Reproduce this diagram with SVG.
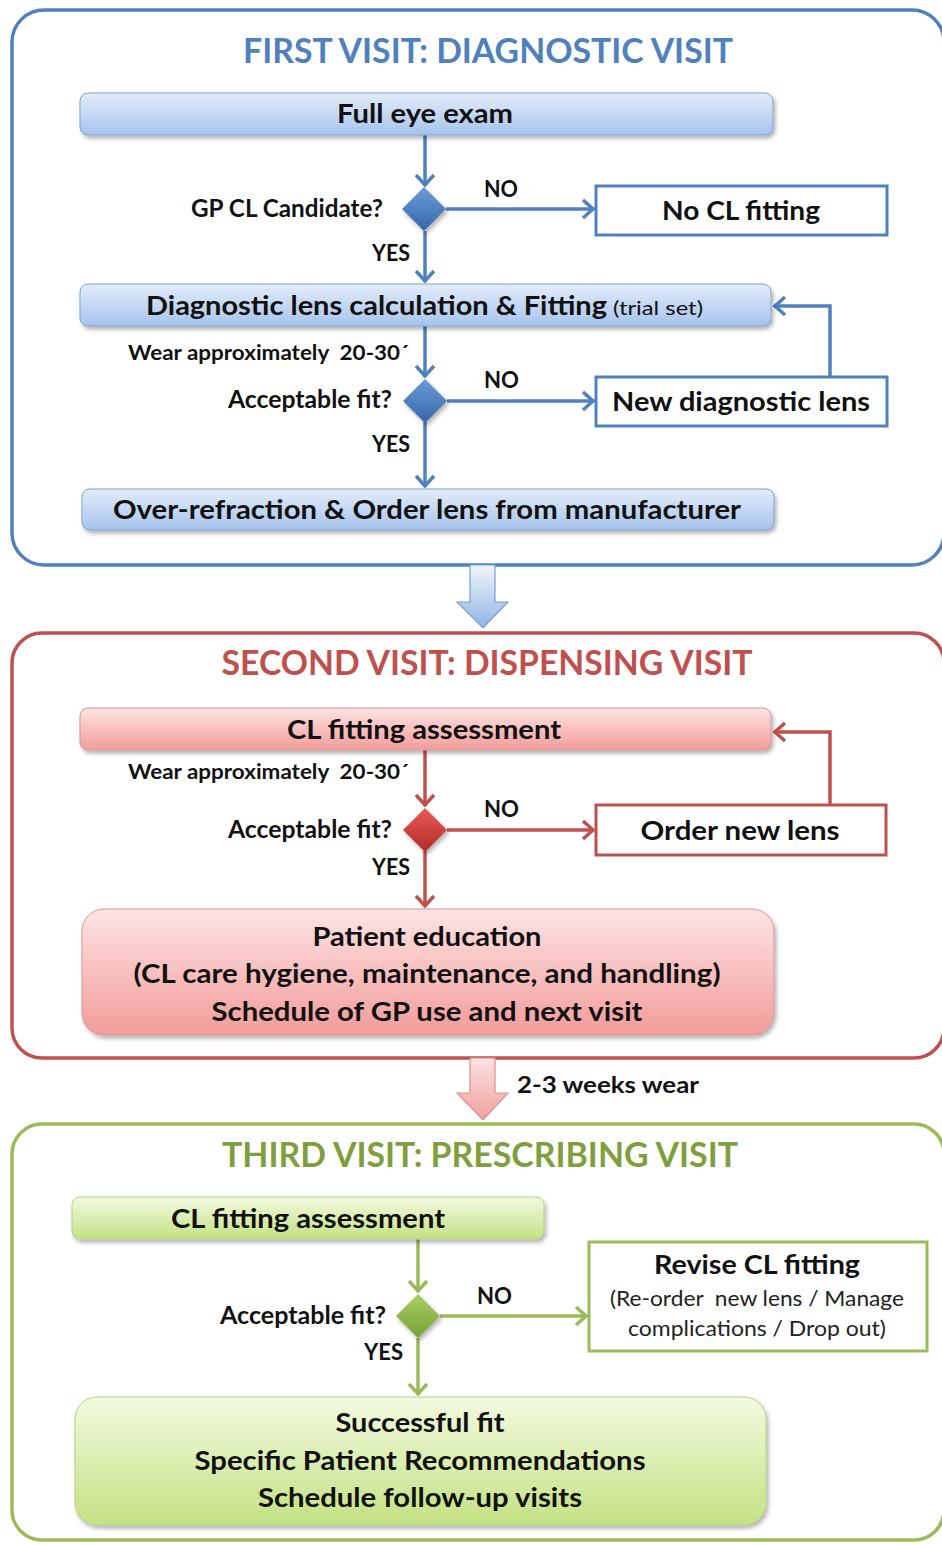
<svg xmlns="http://www.w3.org/2000/svg" width="942" height="1545" viewBox="0 0 942 1545">
  <style>
    text { font-family: Lato, "Open Sans", "Liberation Sans", sans-serif; font-weight: bold; fill: #111; }
    .title { font-size: 35px; text-anchor: middle; }
    .box-t { font-size: 27px; text-anchor: middle; }
    .lbl { font-size: 24px; }
    .yn { font-size: 22px; }
    .note { font-size: 20px; }
    .panel { fill: #fff; stroke-width: 3.5; }
    .plain { fill: #fff; stroke-width: 3; }
    .blue-line { fill: none; stroke: #4f81bd; stroke-width: 3.5; }
    .red-line { fill: none; stroke: #c0504d; stroke-width: 3.5; }
    .green-line { fill: none; stroke: #9bbb59; stroke-width: 3.5; }
  </style>
  <defs>
    <linearGradient id="gBlue" x1="0" y1="0" x2="0" y2="1">
      <stop offset="0" stop-color="#e3edfa"/>
      <stop offset="1" stop-color="#a6c3ec"/>
    </linearGradient>
    <linearGradient id="gRed" x1="0" y1="0" x2="0" y2="1">
      <stop offset="0" stop-color="#fde4e4"/>
      <stop offset="1" stop-color="#f29c9a"/>
    </linearGradient>
    <linearGradient id="gGreen" x1="0" y1="0" x2="0" y2="1">
      <stop offset="0" stop-color="#f3fae0"/>
      <stop offset="1" stop-color="#c4e183"/>
    </linearGradient>
    <linearGradient id="dBlue" x1="0" y1="0" x2="0" y2="1">
      <stop offset="0" stop-color="#6a9bd8"/>
      <stop offset="1" stop-color="#3766a8"/>
    </linearGradient>
    <linearGradient id="dRed" x1="0" y1="0" x2="0" y2="1">
      <stop offset="0" stop-color="#ec5a55"/>
      <stop offset="1" stop-color="#b02a27"/>
    </linearGradient>
    <linearGradient id="dGreen" x1="0" y1="0" x2="0" y2="1">
      <stop offset="0" stop-color="#a9cf62"/>
      <stop offset="1" stop-color="#77a136"/>
    </linearGradient>
    <linearGradient id="bArrowBlue" x1="0" y1="0" x2="0" y2="1">
      <stop offset="0" stop-color="#f2f6fc"/>
      <stop offset="1" stop-color="#8fb4e3"/>
    </linearGradient>
    <linearGradient id="bArrowRed" x1="0" y1="0" x2="0" y2="1">
      <stop offset="0" stop-color="#fbe3e2"/>
      <stop offset="1" stop-color="#efa09e"/>
    </linearGradient>
    <filter id="shadow" x="-5%" y="-20%" width="110%" height="150%">
      <feDropShadow dx="2" dy="3" stdDeviation="2" flood-color="#000" flood-opacity="0.3"/>
    </filter>
    <marker id="arrBlue" viewBox="-14 -11 17 22" markerWidth="17" markerHeight="22" refX="0" refY="0" orient="auto" markerUnits="userSpaceOnUse">
      <path d="M-11,-9 L-1,0 L-11,9" fill="none" stroke="#4f81bd" stroke-width="3.5"/>
    </marker>
    <marker id="arrRed" viewBox="-14 -11 17 22" markerWidth="17" markerHeight="22" refX="0" refY="0" orient="auto" markerUnits="userSpaceOnUse">
      <path d="M-11,-9 L-1,0 L-11,9" fill="none" stroke="#c0504d" stroke-width="3.5"/>
    </marker>
    <marker id="arrGreen" viewBox="-14 -11 17 22" markerWidth="17" markerHeight="22" refX="0" refY="0" orient="auto" markerUnits="userSpaceOnUse">
      <path d="M-11,-9 L-1,0 L-11,9" fill="none" stroke="#9bbb59" stroke-width="3.5"/>
    </marker>
  </defs>

  <rect width="942" height="1545" fill="#fff"/>

  <!-- Visit panels -->
  <g id="panel-first">
    <rect class="panel" x="12" y="10" width="932" height="555" rx="32" stroke="#4f81bd"/>
    <text class="title" x="488" y="63" style="fill:#4f81bd" textLength="490" lengthAdjust="spacingAndGlyphs">FIRST VISIT: DIAGNOSTIC VISIT</text>
  </g>
  <g id="panel-second">
    <rect class="panel" x="12" y="633" width="932" height="425" rx="30" stroke="#c0504d"/>
    <text class="title" x="487" y="675" style="fill:#c0504d" textLength="531" lengthAdjust="spacingAndGlyphs">SECOND VISIT: DISPENSING VISIT</text>
  </g>
  <g id="panel-third">
    <rect class="panel" x="12" y="1124" width="932" height="416" rx="30" stroke="#9bbb59"/>
    <text class="title" x="480" y="1167" style="fill:#7f9f3e" textLength="516" lengthAdjust="spacingAndGlyphs">THIRD VISIT: PRESCRIBING VISIT</text>
  </g>

  <!-- Connectors -->
  <g id="connectors">
    <path class="blue-line" d="M425,135 V186" marker-end="url(#arrBlue)"/>
    <path class="blue-line" d="M425,231 V282" marker-end="url(#arrBlue)"/>
    <path class="blue-line" d="M446,209 H594" marker-end="url(#arrBlue)"/>
    <path class="blue-line" d="M425,326 V377" marker-end="url(#arrBlue)"/>
    <path class="blue-line" d="M447,401 H594" marker-end="url(#arrBlue)"/>
    <path class="blue-line" d="M425,422 V487" marker-end="url(#arrBlue)"/>
    <path class="blue-line" d="M830,377 V306 H774" marker-end="url(#arrBlue)"/>

    <path class="red-line" d="M425,750 V806" marker-end="url(#arrRed)"/>
    <path class="red-line" d="M447,830 H594" marker-end="url(#arrRed)"/>
    <path class="red-line" d="M425,851 V907" marker-end="url(#arrRed)"/>
    <path class="red-line" d="M830,805 V732 H774" marker-end="url(#arrRed)"/>

    <path class="green-line" d="M418,1239 V1292" marker-end="url(#arrGreen)"/>
    <path class="green-line" d="M440,1316 H587" marker-end="url(#arrGreen)"/>
    <path class="green-line" d="M418,1338 V1395" marker-end="url(#arrGreen)"/>

    <!-- block arrows between visits -->
    <polygon points="470,565 495,565 495,602 508,602 483,628 457,602 470,602" fill="url(#bArrowBlue)" stroke="#7ba0cf" stroke-width="1.2"/>
    <polygon points="470,1058 495,1058 495,1093 508,1093 483,1120 457,1093 470,1093" fill="url(#bArrowRed)" stroke="#e38d8b" stroke-width="1.2"/>
    <text x="517" y="1093" style="font-size:23px" textLength="182" lengthAdjust="spacingAndGlyphs">2-3 weeks wear</text>
  </g>

  <!-- First visit -->
  <g id="full-eye-exam">
    <rect x="80" y="93" width="693" height="42" rx="8" fill="url(#gBlue)" stroke="#7ea3d2" stroke-width="1" filter="url(#shadow)"/>
    <text class="box-t" x="425" y="123" textLength="176" lengthAdjust="spacingAndGlyphs">Full eye exam</text>
  </g>
  <g id="gp-candidate">
    <polygon points="424,187 446,209 424,231 402,209" fill="url(#dBlue)" filter="url(#shadow)"/>
    <text class="lbl" x="383" y="217" text-anchor="end" textLength="192" lengthAdjust="spacingAndGlyphs">GP CL Candidate?</text>
    <text class="yn" x="484" y="197" textLength="34" lengthAdjust="spacingAndGlyphs">NO</text>
    <text class="yn" x="372" y="261" textLength="38" lengthAdjust="spacingAndGlyphs">YES</text>
  </g>
  <g id="no-cl-fitting">
    <rect class="plain" x="596" y="186" width="291" height="49" stroke="#4f81bd"/>
    <text class="box-t" x="741" y="220" textLength="158" lengthAdjust="spacingAndGlyphs">No CL fitting</text>
  </g>
  <g id="diagnostic-lens">
    <rect x="80" y="284" width="691" height="42" rx="8" fill="url(#gBlue)" stroke="#7ea3d2" stroke-width="1" filter="url(#shadow)"/>
    <text x="146" y="315" style="font-size:27px" textLength="461" lengthAdjust="spacingAndGlyphs">Diagnostic lens calculation &amp; Fitting</text>
    <text x="613" y="315" style="font-size:20px;font-weight:normal" textLength="90" lengthAdjust="spacingAndGlyphs">(trial set)</text>
  </g>
  <g id="acceptable-fit-1">
    <text class="note" x="128" y="360" xml:space="preserve" textLength="281" lengthAdjust="spacingAndGlyphs">Wear approximately  20-30´</text>
    <polygon points="425,379 447,401 425,423 403,401" fill="url(#dBlue)" filter="url(#shadow)"/>
    <text class="lbl" x="392" y="408" text-anchor="end" textLength="164" lengthAdjust="spacingAndGlyphs">Acceptable fit?</text>
    <text class="yn" x="484" y="388" textLength="35" lengthAdjust="spacingAndGlyphs">NO</text>
    <text class="yn" x="372" y="452" textLength="38" lengthAdjust="spacingAndGlyphs">YES</text>
  </g>
  <g id="new-diagnostic-lens">
    <rect class="plain" x="596" y="377" width="291" height="49" stroke="#4f81bd"/>
    <text class="box-t" x="741" y="411" textLength="258" lengthAdjust="spacingAndGlyphs">New diagnostic lens</text>
  </g>
  <g id="over-refraction">
    <rect x="82" y="489" width="692" height="41" rx="8" fill="url(#gBlue)" stroke="#7ea3d2" stroke-width="1" filter="url(#shadow)"/>
    <text class="box-t" x="427" y="519" textLength="628" lengthAdjust="spacingAndGlyphs">Over-refraction &amp; Order lens from manufacturer</text>
  </g>

  <!-- Second visit -->
  <g id="cl-assessment-2">
    <rect x="80" y="708" width="691" height="42" rx="8" fill="url(#gRed)" stroke="#d99594" stroke-width="1" filter="url(#shadow)"/>
    <text class="box-t" x="424" y="739" textLength="274" lengthAdjust="spacingAndGlyphs">CL fitting assessment</text>
  </g>
  <g id="acceptable-fit-2">
    <text class="note" x="128" y="779" xml:space="preserve" textLength="281" lengthAdjust="spacingAndGlyphs">Wear approximately  20-30´</text>
    <polygon points="425,808 447,830 425,852 403,830" fill="url(#dRed)" filter="url(#shadow)"/>
    <text class="lbl" x="392" y="838" text-anchor="end" textLength="164" lengthAdjust="spacingAndGlyphs">Acceptable fit?</text>
    <text class="yn" x="484" y="817" textLength="35" lengthAdjust="spacingAndGlyphs">NO</text>
    <text class="yn" x="372" y="875" textLength="38" lengthAdjust="spacingAndGlyphs">YES</text>
  </g>
  <g id="order-new-lens">
    <rect class="plain" x="596" y="805" width="290" height="50" stroke="#c0504d"/>
    <text class="box-t" x="740" y="840" textLength="199" lengthAdjust="spacingAndGlyphs">Order new lens</text>
  </g>
  <g id="patient-education">
    <rect x="82" y="909" width="692" height="126" rx="22" fill="url(#gRed)" stroke="#d99594" stroke-width="1" filter="url(#shadow)"/>
    <text class="box-t" x="427" y="946" textLength="229" lengthAdjust="spacingAndGlyphs">Patient education</text>
    <text class="box-t" x="427" y="983" textLength="587" lengthAdjust="spacingAndGlyphs">(CL care hygiene, maintenance, and handling)</text>
    <text class="box-t" x="427" y="1021" textLength="431" lengthAdjust="spacingAndGlyphs">Schedule of GP use and next visit</text>
  </g>

  <!-- Third visit -->
  <g id="cl-assessment-3">
    <rect x="72" y="1197" width="472" height="42" rx="8" fill="url(#gGreen)" stroke="#b6d184" stroke-width="1" filter="url(#shadow)"/>
    <text class="box-t" x="308" y="1228" textLength="274" lengthAdjust="spacingAndGlyphs">CL fitting assessment</text>
  </g>
  <g id="acceptable-fit-3">
    <polygon points="418,1294 440,1316 418,1338 396,1316" fill="url(#dGreen)" filter="url(#shadow)"/>
    <text class="lbl" x="386" y="1324" text-anchor="end" textLength="166" lengthAdjust="spacingAndGlyphs">Acceptable fit?</text>
    <text class="yn" x="477" y="1304" textLength="35" lengthAdjust="spacingAndGlyphs">NO</text>
    <text class="yn" x="364" y="1360" textLength="39" lengthAdjust="spacingAndGlyphs">YES</text>
  </g>
  <g id="revise-cl-fitting">
    <rect class="plain" x="589" y="1242" width="338" height="109" stroke="#9bbb59"/>
    <text class="box-t" x="757" y="1274" textLength="206" lengthAdjust="spacingAndGlyphs">Revise CL fitting</text>
    <text x="757" y="1306" text-anchor="middle" xml:space="preserve" style="font-size:21px;font-weight:normal;fill:#222" textLength="294" lengthAdjust="spacingAndGlyphs">(Re-order  new lens / Manage</text>
    <text x="757" y="1336" text-anchor="middle" style="font-size:21px;font-weight:normal;fill:#222" textLength="258" lengthAdjust="spacingAndGlyphs">complications / Drop out)</text>
  </g>
  <g id="successful-fit">
    <rect x="75" y="1397" width="691" height="128" rx="22" fill="url(#gGreen)" stroke="#b6d184" stroke-width="1" filter="url(#shadow)"/>
    <text class="box-t" x="420" y="1432" textLength="169" lengthAdjust="spacingAndGlyphs">Successful fit</text>
    <text class="box-t" x="420" y="1470" textLength="451" lengthAdjust="spacingAndGlyphs">Specific Patient Recommendations</text>
    <text class="box-t" x="420" y="1507" textLength="324" lengthAdjust="spacingAndGlyphs">Schedule follow-up visits</text>
  </g>
</svg>
